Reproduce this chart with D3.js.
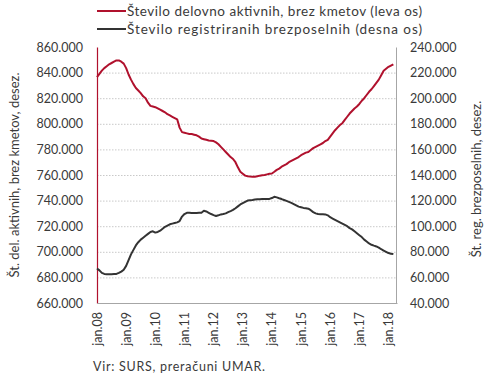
<!DOCTYPE html>
<html>
<head>
<meta charset="utf-8">
<script src="https://cdn.jsdelivr.net/npm/d3@7"></script>
<style>
  body { margin: 0; background: #fff; }
  text { font-family: Lato, "Open Sans", sans-serif; fill: #3a3a3a; }
</style>
</head>
<body>
<div id="canvas"></div>
<script>
// monthly data, jan.08 .. mar.18, in thousands
var startYear = 2008;
var activeWorkers = [
  836.5, 839, 841.5, 843.5, 845, 846.5, 847.5, 848.5, 849.5, 849.5, 848.5, 847,
  843.5, 838.5, 834.5, 831, 828, 826, 824, 821.5, 820, 816.5, 814, 813.5,
  813, 812, 811, 810, 809, 807.5, 806.5, 805.5, 804.5, 803.5, 797, 793.5,
  793, 792.5, 792, 792, 791.5, 791, 790, 788.5, 788, 787.5, 787, 786.8,
  786.5, 785.5, 784, 782, 780, 778, 776, 774, 772.5, 770, 766, 762.5,
  761, 759.5, 759, 758.8, 758.7, 758.7, 759, 759.5, 759.8, 760, 760.5, 761,
  761.2, 762.5, 764, 765, 766.5, 767.5, 768.5, 770, 771, 772, 773, 774,
  775.5, 776.5, 777.5, 778, 779.5, 781, 782, 783, 784, 785, 786.5, 787.5,
  790, 792.5, 795, 797, 799, 800.5, 803, 805.5, 808, 810, 812, 813.5,
  815.5, 818, 820, 822.5, 825, 827, 829.5, 832, 834.5, 838, 841.5, 843,
  844.5, 845.5, 846.5
];
var unemployed = [
  67, 65.5, 63.5, 62.7, 62.5, 62.5, 62.5, 62.6, 62.7, 63.5, 64.5, 66,
  69, 73.5, 78, 81.5, 85, 87.5, 89.5, 91, 92.5, 94, 95.5, 96,
  95, 95.5, 96.5, 98, 99.5, 100.5, 101.5, 102, 102.5, 103, 104, 107.5,
  109.5, 110.5, 110.5, 110.3, 110.3, 110.4, 110.5, 110.5, 112, 111.5, 110.5, 109.5,
  108.7, 108, 108.5, 109.2, 109.5, 110, 111, 111.8, 112.7, 114, 115.5, 117,
  118, 119, 120, 120.3, 120.5, 120.8, 121, 121, 121.2, 121.2, 121.3, 121.3,
  122, 123, 122.5, 121.8, 121.2, 120.5, 119.8, 119, 118.2, 117.3, 116.3, 115.3,
  114.8, 114.3, 114, 113.7, 112.5, 111, 110, 109.5, 109.4, 109.3, 109.2, 108.5,
  107, 106, 105, 104, 103, 102, 101, 100, 98.5, 97.5, 96, 94.5,
  93, 91.5, 89.5, 88, 86.5, 85.5, 84.8, 84.2, 83.3, 82, 81, 80,
  79, 78.5, 78.2
];
var xLabels = ["jan.08", "jan.09", "jan.10", "jan.11", "jan.12", "jan.13",
  "jan.14", "jan.15", "jan.16", "jan.17", "jan.18"];
var leftTicks = [660, 680, 700, 720, 740, 760, 780, 800, 820, 840, 860];
var rightTicks = [40, 60, 80, 100, 120, 140, 160, 180, 200, 220, 240];
var seriesNames = ["Število delovno aktivnih, brez kmetov (leva os)",
  "Število registriranih brezposelnih (desna os)"];
var leftTitle = "Št. del. aktivnih, brez kmetov, desez.";
var rightTitle = "Št. reg. brezposelnih, desez.";
var source = "Vir: SURS, preračuni UMAR.";

var red = "#b0112d", dark = "#333333";
var W = 490, H = 380;
var plot = {left: 97, right: 396, top: 47, bottom: 303};

var svg = d3.select("#canvas").append("svg")
  .attr("width", W).attr("height", H);

var x = d3.scaleLinear().domain([0, 123.5]).range([plot.left, plot.right + 1]);
var yL = d3.scaleLinear().domain([660, 860]).range([plot.bottom, plot.top]);
var yR = d3.scaleLinear().domain([40, 240]).range([plot.bottom, plot.top]);

var fmt = function (d) { return d + ".000"; };

// grid
svg.append("g").selectAll("line")
  .data(leftTicks.slice(1, -1))
  .enter().append("line")
  .attr("x1", plot.left).attr("x2", plot.right)
  .attr("y1", d => yL(d) + 0.5).attr("y2", d => yL(d) + 0.5)
  .attr("stroke", "#c9c9c9").attr("stroke-width", 1)
  .attr("stroke-dasharray", "1.5,1.5");

// left axis
var leftAxis = svg.append("g")
  .attr("transform", `translate(${plot.left},0)`)
  .call(d3.axisLeft(yL).tickValues(leftTicks).tickFormat(fmt).tickSize(0).tickPadding(14));
leftAxis.select(".domain").attr("stroke", red).attr("stroke-width", 1.2);
leftAxis.selectAll("text").style("font-size", "12.5px").style("font-family", "Lato").attr("fill", "#3a3a3a");

// right axis
var rightAxis = svg.append("g")
  .attr("transform", `translate(${plot.right},0)`)
  .call(d3.axisRight(yR).tickValues(rightTicks).tickFormat(fmt).tickSize(0).tickPadding(14));
rightAxis.select(".domain").attr("stroke", "#a6a6a6").attr("stroke-width", 1);
rightAxis.selectAll("text").style("font-size", "12.5px").style("font-family", "Lato").attr("fill", "#3a3a3a");

// bottom axis
var xAxis = svg.append("g")
  .attr("transform", `translate(0,${plot.bottom})`)
  .call(d3.axisBottom(x).tickValues(xLabels.map((d, i) => i * 12))
    .tickFormat((d, i) => xLabels[i]).tickSize(0).tickPadding(0));
xAxis.select(".domain").attr("stroke", "#a6a6a6").attr("stroke-width", 1);
xAxis.selectAll("text")
  .style("font-size", "12.5px").style("font-family", "Lato").attr("fill", "#3a3a3a")
  .attr("text-anchor", "end")
  .attr("dy", null)
  .attr("y", 0)
  .attr("transform", "rotate(-90) translate(-9,4)");

// lines
var lineL = d3.line().x((d, i) => x(i)).y(d => yL(d));
var lineR = d3.line().x((d, i) => x(i)).y(d => yR(d));

svg.append("path").datum(unemployed)
  .attr("d", lineR).attr("fill", "none")
  .attr("stroke", dark).attr("stroke-width", 2).attr("stroke-linejoin", "round");
svg.append("path").datum(activeWorkers)
  .attr("d", lineL).attr("fill", "none")
  .attr("stroke", red).attr("stroke-width", 2).attr("stroke-linejoin", "round");

// axis titles
svg.append("text")
  .attr("transform", `translate(19,${(plot.top + plot.bottom) / 2}) rotate(-90)`)
  .attr("text-anchor", "middle")
  .style("font-size", "13px")
  .text(leftTitle);
svg.append("text")
  .attr("transform", `translate(481,${(plot.top + plot.bottom) / 2 + 4}) rotate(-90)`)
  .attr("text-anchor", "middle")
  .style("font-size", "13px")
  .text(rightTitle);

// legend
var legend = svg.append("g");
[red, dark].forEach(function (c, i) {
  var ly = 11 + i * 18;
  legend.append("line")
    .attr("x1", 97).attr("x2", 126).attr("y1", ly).attr("y2", ly)
    .attr("stroke", c).attr("stroke-width", 2);
  legend.append("text")
    .attr("x", 127).attr("y", ly + 4.5)
    .style("font-size", "13.5px")
    .attr("textLength", 295)
    .attr("lengthAdjust", "spacing")
    .text(seriesNames[i]);
});

// source
svg.append("text")
  .attr("x", 93).attr("y", 371)
  .style("font-size", "12.5px")
  .attr("textLength", 172)
  .attr("lengthAdjust", "spacing")
  .text(source);
</script>
</body>
</html>
